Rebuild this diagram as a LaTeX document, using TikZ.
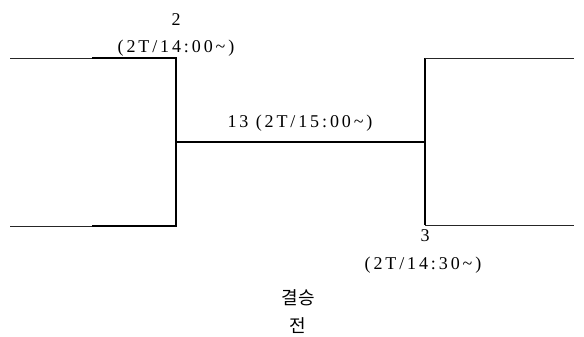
\documentclass[tikz,border=0pt]{standalone}
\usepackage{fontspec}
\setmainfont{Liberation Serif}
\newfontfamily\tagfont[LetterSpace=16]{Liberation Serif}
\newfontfamily\hangul{Noto Sans CJK KR}
\usetikzlibrary{positioning}

\begin{document}
\begin{tikzpicture}[x=1pt,y=-1pt,
  thinline/.style={line width=0.8pt,black!85},
  midline/.style={line width=1.3pt},
  thickline/.style={line width=1.7pt},
  tag/.style={inner sep=0pt,font=\fontsize{18}{21}\tagfont},
  hangultag/.style={inner sep=0pt,align=center,font=\fontsize{18}{28}\hangul}]
  \useasboundingbox (0,0) rectangle (584,337);

  % left bracket
  \coordinate (t2a) at (10,58);
  \coordinate (t2b) at (92,58);
  \coordinate (t2c) at (176,58);
  \coordinate (b2a) at (10,226);
  \coordinate (b2b) at (92,226);
  \coordinate (b2c) at (176,226);
  % middle and right bracket
  \coordinate (m13) at (176,142);
  \coordinate (m13b) at (341,142);
  \coordinate (r3) at (425,142);
  \coordinate (t3) at (425,58);
  \coordinate (t3e) at (574,58);
  \coordinate (b3) at (425,225);
  \coordinate (b3e) at (574,225);

  \draw[thinline] (t2a) -- (t2b);
  \draw[thickline] (t2b) -- (t2c) -- (b2c) -- (b2b);
  \draw[thinline] (b2b) -- (b2a);
  \draw[midline] (m13) -- (m13b);
  \draw[thickline] (m13b) -- (r3);
  \draw[thickline] (t3) -- (b3);
  \draw[thinline] (t3) -- (t3e);
  \draw[thinline] (b3) -- (b3e);

  \node[tag] (seed2) at (176,20) {2};
  \node[tag] (time2) at (176,48) {(2T/14:00\textasciitilde)};
  \node[tag] (match13) at (300,123) {13 (2T/15:00\textasciitilde)};
  \node[tag] (seed3) at (425,236) {3};
  \node[tag] (time3) at (423,265) {(2T/14:30\textasciitilde)};
  \node[hangultag] (final) at (298,312) {결승\\전};
\end{tikzpicture}
\end{document}
